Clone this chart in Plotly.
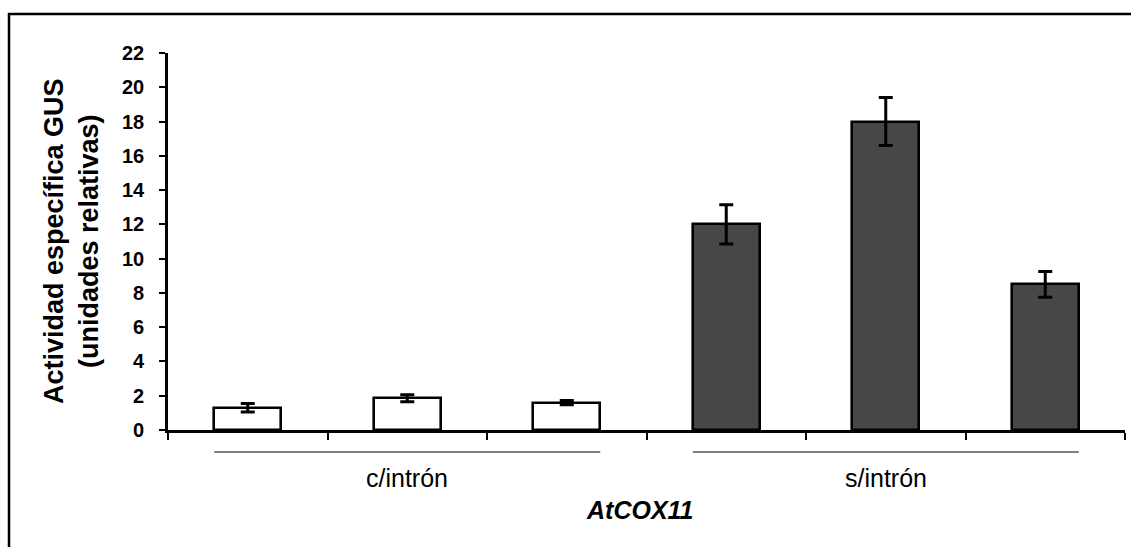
import plotly.graph_objects as go

# GUS specific activity for the AtCOX11 constructs
groups = ["c/intrón", "s/intrón"]
bars_per_group = 3
values = [1.3, 1.85, 1.6, 12.0, 18.0, 8.5]
errors = [0.25, 0.2, 0.12, 1.15, 1.4, 0.75]
fills = ["#ffffff"] * 3 + ["#474747"] * 3
y_ticks = list(range(0, 23, 2))
y_title = ["Actividad específica GUS", "(unidades relativas)"]
x_title = "AtCOX11"

W, H = 1131, 547
ML, MR, MT, MB = 168, 6, 53, 117
plot_w = W - ML - MR
plot_h = H - MT - MB
FONT = "Liberation Sans, Arial, sans-serif"
BAR_W = 0.42

xs = list(range(len(values)))

fig = go.Figure(go.Bar(
    x=xs, y=values, width=BAR_W,
    marker=dict(color=fills, line=dict(color="#000000", width=2.6)),
    error_y=dict(type="data", array=errors, visible=True,
                 color="#000000", thickness=3, width=7),
    showlegend=False,
))


def px_to_paper_x(px):
    return (px - ML) / plot_w


def px_to_paper_y(py):
    return (H - MB - py) / plot_h


shapes = []
annotations = []

# bracket line under each group, spanning its bars
for g, name in enumerate(groups):
    first = g * bars_per_group
    last = first + bars_per_group - 1
    x0 = xs[first] - BAR_W / 2
    x1 = xs[last] + BAR_W / 2
    shapes.append(dict(type="line", xref="x", yref="paper",
                       x0=x0, x1=x1, y0=px_to_paper_y(452), y1=px_to_paper_y(452),
                       line=dict(color="#555555", width=1.5)))
    annotations.append(dict(text=name, xref="x", yref="paper",
                            x=(x0 + x1) / 2, y=px_to_paper_y(478),
                            showarrow=False, xanchor="center", yanchor="middle",
                            font=dict(family=FONT, size=25, color="#000000")))

annotations.append(dict(text="<b><i>%s</i></b>" % x_title, xref="paper", yref="paper",
                        x=px_to_paper_x(640), y=px_to_paper_y(510),
                        showarrow=False, xanchor="center", yanchor="middle",
                        font=dict(family=FONT, size=25, color="#000000")))

annotations.append(dict(text="<b>%s<br>%s</b>" % tuple(y_title), xref="paper", yref="paper",
                        x=px_to_paper_x(71), y=px_to_paper_y(241), textangle=-90,
                        showarrow=False, xanchor="center", yanchor="middle",
                        font=dict(family=FONT, size=27, color="#000000")))

# outer frame (top and left edges visible)
shapes.append(dict(type="rect", xref="paper", yref="paper",
                   x0=px_to_paper_x(9), x1=px_to_paper_x(W + 20),
                   y0=px_to_paper_y(H + 20), y1=px_to_paper_y(14),
                   line=dict(color="#000000", width=2.5), fillcolor="rgba(0,0,0,0)",
                   layer="below"))

fig.update_layout(
    width=W, height=H,
    margin=dict(l=ML, r=MR, t=MT, b=MB, pad=0),
    paper_bgcolor="#ffffff", plot_bgcolor="#ffffff",
    font=dict(family=FONT, color="#000000"),
    bargap=0,
    shapes=shapes,
    annotations=annotations,
    xaxis=dict(
        range=[-0.5, len(values) - 0.5],
        tickmode="array",
        tickvals=[i - 0.5 for i in range(len(values) + 1)],
        ticktext=[""] * (len(values) + 1),
        ticks="outside", ticklen=7, tickwidth=2.2, tickcolor="#000000",
        showline=True, linecolor="#000000", linewidth=2.6,
        showgrid=False, zeroline=False, fixedrange=True,
    ),
    yaxis=dict(
        range=[0, 22],
        tickmode="array", tickvals=y_ticks,
        ticktext=["<b>%d</b>" % v for v in y_ticks],
        ticks="outside", ticklen=6, tickwidth=2.2, tickcolor="#000000",
        tickfont=dict(family=FONT, size=20, color="#000000"),
        ticklabelstandoff=11,
        showline=True, linecolor="#000000", linewidth=2.6,
        showgrid=False, zeroline=False, fixedrange=True,
    ),
)

fig.write_html("out.html")
